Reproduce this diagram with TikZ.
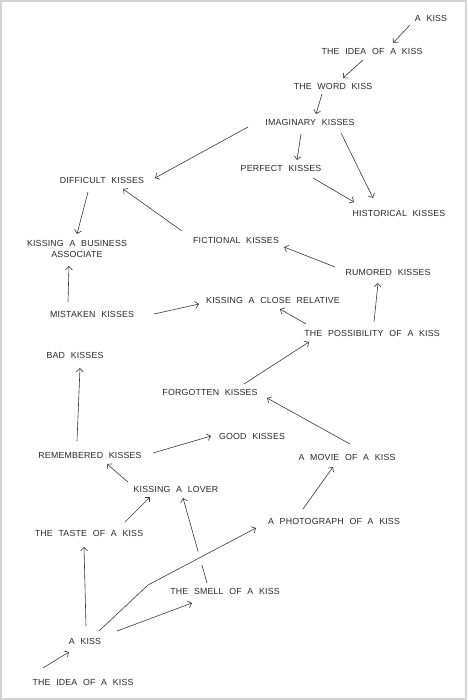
\documentclass[tikz,border=0pt]{standalone}
\usepackage{fontspec}
\setmainfont{Liberation Sans}[WordSpace=2.2,LetterSpace=2]
\usetikzlibrary{arrows.meta,calc}
\definecolor{ink}{HTML}{2A2A2A}
\definecolor{pencil}{HTML}{3A3A3A}
\definecolor{frame}{HTML}{D4D4D4}
\tikzset{
  lbl/.style={font=\fontsize{8.8}{10.5}\selectfont, text=ink, inner sep=0pt, align=center},
  arr/.style={draw=pencil, line width=0.6pt, -{Straight Barb[length=3.5pt,width=7pt]}},
  plain/.style={draw=pencil, line width=0.6pt}
}
\begin{document}
\begin{tikzpicture}[x=1pt,y=-1pt]
\useasboundingbox (0,0) rectangle (467,700);
\fill[white] (0,0) rectangle (467,700);
\draw[frame, line width=2.2pt] (1.1,1.1) rectangle (465.9,698.9);

% nodes
\node[lbl] (kissA)   at (431,18)  {A KISS};
\node[lbl] (ideaA)   at (372,51)  {THE IDEA OF A KISS};
\node[lbl] (word)    at (333,86)  {THE WORD KISS};
\node[lbl] (imag)    at (310,122) {IMAGINARY KISSES};
\node[lbl] (diff)    at (102,180) {DIFFICULT KISSES};
\node[lbl] (perf)    at (281,168) {PERFECT KISSES};
\node[lbl] (hist)    at (399,213) {HISTORICAL KISSES};
\node[lbl] (bus)     at (77,249)  {KISSING A BUSINESS\\ASSOCIATE};
\node[lbl] (fict)    at (236,240) {FICTIONAL KISSES};
\node[lbl] (rum)     at (388,272) {RUMORED KISSES};
\node[lbl] (mist)    at (92,314)  {MISTAKEN KISSES};
\node[lbl] (close)   at (273,300) {KISSING A CLOSE RELATIVE};
\node[lbl] (poss)    at (372,333) {THE POSSIBILITY OF A KISS};
\node[lbl] (bad)     at (75,355)  {BAD KISSES};
\node[lbl] (forg)    at (210,392) {FORGOTTEN KISSES};
\node[lbl] (good)    at (252,436) {GOOD KISSES};
\node[lbl] (remem)   at (90,455)  {REMEMBERED KISSES};
\node[lbl] (movie)   at (347,457) {A MOVIE OF A KISS};
\node[lbl] (lover)   at (176,489) {KISSING A LOVER};
\node[lbl] (photo)   at (334,521) {A PHOTOGRAPH OF A KISS};
\node[lbl] (taste)   at (89,533)  {THE TASTE OF A KISS};
\node[lbl] (smell)   at (225,591) {THE SMELL OF A KISS};
\node[lbl] (kissB)   at (85,641)  {A KISS};
\node[lbl] (ideaB)   at (83,682)  {THE IDEA OF A KISS};

% connectors
\draw[arr] ($(kissA)+(-21,7)$) -- ($(ideaA)+(21,-8)$);
\draw[arr] ($(ideaA)+(-9,9)$) -- ($(word)+(10,-8)$);
\draw[arr] ($(word)+(-11,8)$) -- ($(imag)+(6,-8)$);
\draw[arr] ($(imag)+(-62,5)$) -- ($(diff)+(53,-2)$);
\draw[arr] ($(imag)+(-9,12)$) -- ($(perf)+(16,-8)$);
\draw[arr] ($(imag)+(31,11)$) -- ($(hist)+(-26,-15)$);
\draw[arr] ($(perf)+(32,10)$) -- ($(hist)+(-45,-11)$);
\draw[arr] ($(diff)+(-14,12)$) -- ($(bus)+(0,-15)$);
\draw[arr] ($(fict)+(-54,-9)$) -- ($(diff)+(21,9)$);
\draw[arr] ($(rum)+(-53,-5)$) -- ($(fict)+(48,7)$);
\draw[arr] ($(mist)+(-24,-12)$) -- ($(bus)+(-8,17)$);
\draw[arr] ($(mist)+(62,0)$) -- ($(close)+(-74,4)$);
\draw[arr] ($(poss)+(-66,-9)$) -- ($(close)+(7,9)$);
\draw[arr] ($(poss)+(2,-11)$) -- ($(rum)+(-10,11)$);
\draw[arr] ($(forg)+(34,-8)$) -- ($(poss)+(-63,9)$);
\draw[arr] ($(remem)+(-13,-14)$) -- ($(bad)+(5,13)$);
\draw[arr] ($(remem)+(63,-2)$) -- ($(good)+(-41,0)$);
\draw[arr] ($(movie)+(3,-13)$) -- ($(forg)+(57,6)$);
\draw[arr] ($(lover)+(-48,-7)$) -- ($(remem)+(17,9)$);
\draw[arr] ($(photo)+(-31,-12)$) -- ($(movie)+(-14,10)$);
\draw[arr] ($(taste)+(36,-11)$) -- ($(lover)+(-26,8)$);
% smell -> lover, broken where the photograph line crosses it
\coordinate (sl1) at ($(smell)+(-18,-8)$);
\coordinate (sl2) at ($(lover)+(7,9)$);
\draw[plain] (sl1) -- ($(sl1)!0.21!(sl2)$);
\draw[arr] ($(sl1)!0.37!(sl2)$) -- (sl2);
\draw[arr] ($(kissB)+(1,-15)$) -- ($(taste)+(-5,14)$);
\coordinate (bend) at (148,585);
\draw[arr] ($(kissB)+(14,-10)$) -- (bend) -- ($(photo)+(-78,7)$);
\draw[arr] ($(kissB)+(32,-10)$) -- ($(smell)+(-33,12)$);
\draw[arr] ($(ideaB)+(-40,-14)$) -- ($(kissB)+(-16,11)$);
\end{tikzpicture}
\end{document}
